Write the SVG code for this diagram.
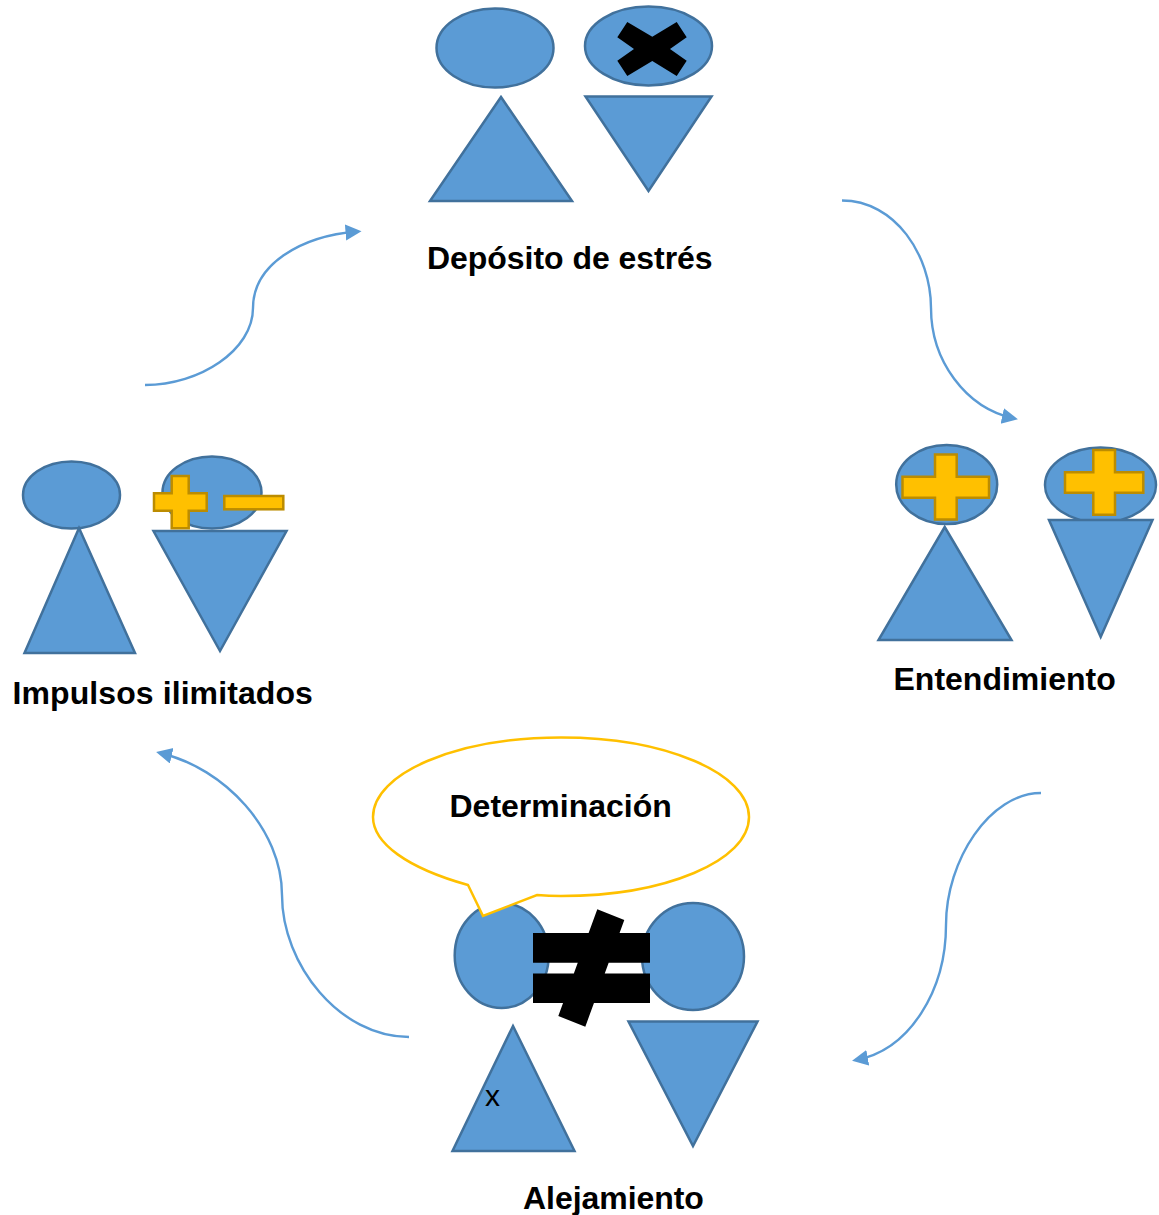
<svg xmlns="http://www.w3.org/2000/svg" width="1159" height="1215" viewBox="0 0 1159 1215">
<style>
.s{fill:#5B9BD5;stroke:#41719C;stroke-width:2.5;stroke-linejoin:miter}
.g{fill:#FFC000;stroke:#BC8C00;stroke-width:2.5}
.k{fill:#000}
.c{fill:none;stroke:#5B9BD5;stroke-width:2.4;marker-end:url(#a)}
.t{font-family:"Liberation Sans",Arial,sans-serif;font-weight:700;font-size:32px;fill:#000}
</style>
<defs><marker id="a" markerUnits="userSpaceOnUse" markerWidth="18" markerHeight="18" refX="12" refY="8" orient="auto"><path d="M0 0L16 8L0 16Z" fill="#5B9BD5"/></marker></defs>
<rect width="1159" height="1215" fill="#fff"/>
<g id="connectors">
<path class="c" d="M842 200.500C895 200.500 931 255 931 308C931 360 965 408 1014 418.500"/>
<path class="c" d="M1041 793C990 793 946 860 946 925C946 990 910 1050 856 1060"/>
<path class="c" d="M409 1037C340 1037 282 965 282 895C282 830 225 768 160 753"/>
<path class="c" d="M145 385C200 385 253 350 253 308C253 265 300 236 357.500 231.500"/>
</g>
<g id="deposito">
<ellipse class="s" cx="495" cy="48" rx="58.500" ry="39.500"/>
<ellipse class="s" cx="648.500" cy="46" rx="63.500" ry="39.500"/>
<path class="s" d="M501 97L572 201H430Z"/>
<path class="s" d="M585.500 96.500H711.500L648.500 191Z"/>
<path class="k" d="M627.300 22L652.300 36.700L676.700 22L686.700 37.300L670 49L686.700 60.700L676.700 76L652.300 61L627.300 76L617.300 60.700L634 49L617.300 37.300Z"/>
<text class="t" x="427" y="269" letter-spacing="-0.04">Depósito de estrés</text>
</g>
<g id="entendimiento">
<ellipse class="s" cx="946.700" cy="484.500" rx="50.500" ry="39.500"/>
<ellipse class="s" cx="1100.500" cy="485" rx="55.500" ry="37.500"/>
<path class="s" d="M944.700 527L1011.500 640H878.500Z"/>
<path class="s" d="M1049 520H1152.500L1100.700 637Z"/>
<path class="g" d="M935 454.500H956.700V476.700H989V497.700H956.700V519.500H935V497.700H902.500V476.700H935Z"/>
<path class="g" d="M1093.300 450H1115V472.300H1143.300V492.700H1115V514.700H1093.300V492.700H1065V472.300H1093.300Z"/>
<text class="t" x="893.500" y="690">Entendimiento</text>
</g>
<g id="alejamiento">
<ellipse class="s" cx="501.700" cy="955.500" rx="47" ry="52.500"/>
<ellipse class="s" cx="693" cy="956.500" rx="51" ry="53.500"/>
<path class="s" d="M513 1026L574.500 1151H452.500Z"/>
<path class="s" d="M628.500 1021.500H757.500L693 1146Z"/>
<path class="k" d="M533 933H650V962.700H533ZM533 973.500H650V1003H533ZM597.300 909.300L624.300 920L585.300 1026.700L558.300 1016Z"/>
<text x="485" y="1106" style="font-family:'Liberation Sans',Arial,sans-serif;font-size:30px">x</text>
<text class="t" x="523" y="1209" letter-spacing="-0.05">Alejamiento</text>
</g>
<g id="determinacion">
<path d="M468 885C407 868 373 843 373 817C373 773 457 737.500 561 737.500C665 737.500 749 773 749 817C749 861 665 896 561 896Q549 896 537 895L483 916Z" fill="#fff" stroke="#FFC000" stroke-width="2.500"/>
<text class="t" x="449.500" y="817">Determinación</text>
</g>
<g id="impulsos">
<ellipse class="s" cx="71.500" cy="495" rx="48.500" ry="33.500"/>
<ellipse class="s" cx="212" cy="492.500" rx="49.500" ry="36"/>
<path class="s" d="M79 528L135 653H24.500Z"/>
<path class="s" d="M153.500 531H286.500L220 651Z"/>
<path class="g" d="M171.700 476H188.700V493.300H206.700V510.700H188.700V528.300H171.700V510.700H154V493.300H171.700Z"/>
<rect class="g" x="224.300" y="496" width="59" height="13.300"/>
<text class="t" x="12.500" y="704" letter-spacing="0.09">Impulsos ilimitados</text>
</g>
</svg>
